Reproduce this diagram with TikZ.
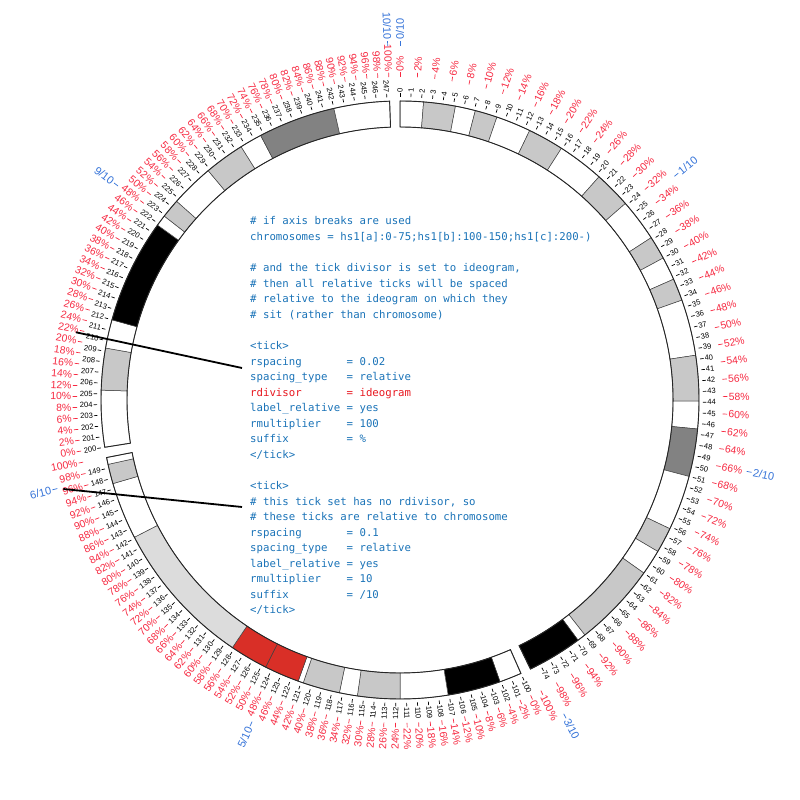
\documentclass[tikz,border=0pt]{standalone}
\usepackage{fontspec}
\setmainfont{Liberation Sans}
\newfontfamily\codefont{DejaVu Sans Mono}
\definecolor{tickred}{RGB}{247,42,66}
\definecolor{tickblue}{RGB}{54,116,217}
\definecolor{codeblue}{RGB}{26,115,184}
\definecolor{codered}{RGB}{232,24,32}
\definecolor{bgpos}{RGB}{200,200,200}
\definecolor{bgvar}{RGB}{220,220,220}
\definecolor{bgposs}{RGB}{130,130,130}
\definecolor{bacen}{RGB}{217,47,39}
\def\S{2.0552}
\def\Ri{273}
\def\Ro{299}
% #1 offset angle, #2 region start, #3 p1, #4 p2, #5 colour
\newcommand\ideoband[5]{%
  \pgfmathsetmacro\aA{90-(#1+(#3-#2)*\S)}%
  \pgfmathsetmacro\aB{90-(#1+(#4-#2)*\S)}%
  \filldraw[fill=#5, draw=black!75, line width=0.5]
    (\aA:\Ri) -- (\aA:\Ro) arc[start angle=\aA, end angle=\aB, radius=\Ro]
    -- (\aB:\Ri) arc[start angle=\aB, end angle=\aA, radius=\Ri] -- cycle;}
\newcommand\ideoframe[3]{%
  \pgfmathsetmacro\aA{90-#1}%
  \pgfmathsetmacro\aB{90-(#1+(#3-#2)*\S)}%
  \draw[black!85, line width=0.9]
    (\aA:\Ri) -- (\aA:\Ro) arc[start angle=\aA, end angle=\aB, radius=\Ro]
    -- (\aB:\Ri) arc[start angle=\aB, end angle=\aA, radius=\Ri] -- cycle;}
% #1 theta, #2 r1, #3 r2, #4 rlabel, #5 colour, #6 font, #7 text, #8 name
\newcommand\radlabel[8]{%
  \pgfmathsetmacro\ph{90-#1}%
  \draw[#5, line width=0.7] (\ph:#2) -- (\ph:#3);
  \ifdim #1pt<179.99pt
    \node[#5, font=#6, anchor=west, rotate=\ph, inner sep=0.3] (#8) at (\ph:#4) {#7};
  \else
    \pgfmathsetmacro\rt{\ph+180}%
    \node[#5, font=#6, anchor=east, rotate=\rt, inner sep=0.3] (#8) at (\ph:#4) {#7};
  \fi}
\begin{document}
\begin{tikzpicture}[x=1pt,y=1pt,
  code/.style={font=\codefont\fontsize{10.7}{12}\selectfont, text=codeblue, anchor=base west, inner sep=0},
  codered/.style={code, text=codered}]
\useasboundingbox (0,0) rectangle (800,800);
\fill[white] (0,0) rectangle (800,800);
\pgfmathsetmacro\offB{75*\S+2}
\pgfmathsetmacro\offC{125*\S+4}
\begin{scope}[shift={(400,400)}]
% ideogram a
\foreach \pa/\pb/\cc in {0/2.2/white,2.2/5.2/bgpos,5.2/7.1/white,7.1/9.2/bgpos,9.2/12.5/white,
  12.5/15.9/bgpos,15.9/20.3/white,20.3/23.8/bgpos,23.8/27.8/white,27.8/30.0/bgpos,30.0/32.2/white,
  32.2/34.3/bgpos,34.3/39.6/white,39.6/43.9/bgpos,43.9/46.5/white,46.5/51.0/bgposs,51.0/56.2/white,
  56.2/58.6/bgpos,58.6/61.0/white,61.0/69.0/bgpos,69.0/69.8/white,69.8/75/black}
  {\ideoband{0}{0}{\pa}{\pb}{\cc}}
\ideoframe{0}{0}{75}
% ideogram b
\foreach \pa/\pb/\cc in {100/102.1/white,102.1/107.1/black,107.1/111.6/white,111.6/115.6/bgpos,
  115.6/117.3/white,117.3/120.8/bgpos,120.8/121.3/white,121.3/124.6/bacen,124.6/128.2/bacen,
  128.2/142.1/bgvar,142.1/147.5/white,147.5/149.35/bgpos,149.35/150/white}
  {\ideoband{\offB}{100}{\pa}{\pb}{\cc}}
\ideoframe{\offB}{100}{150}
% ideogram c
\foreach \pa/\pb/\cc in {200/205.35/white,205.35/209.3/bgpos,209.3/212/white,212/221.85/black,
  221.85/222.9/white,222.9/224.7/bgpos,224.7/228.8/white,228.8/232.6/bgpos,232.6/234.7/white,
  234.7/242/bgposs,242/247.25/white}
  {\ideoband{\offC}{200}{\pa}{\pb}{\cc}}
\ideoframe{\offC}{200}{247.25}
% black ticks
\foreach \p in {0,...,74}{\pgfmathsetmacro\th{\p*\S}
  \radlabel{\th}{303}{306.5}{307}{black}{\fontsize{7.6}{8}\selectfont}{\p}{mb\p}}
\foreach \p in {100,...,149}{\pgfmathsetmacro\th{\offB+(\p-100)*\S}
  \radlabel{\th}{303}{306.5}{307}{black}{\fontsize{7.6}{8}\selectfont}{\p}{mb\p}}
\foreach \p in {200,...,247}{\pgfmathsetmacro\th{\offC+(\p-200)*\S}
  \radlabel{\th}{303}{306.5}{307}{black}{\fontsize{7.6}{8}\selectfont}{\p}{mb\p}}
% red relative ticks
\foreach \k in {0,2,...,100}{\pgfmathsetmacro\th{\k/100*75*\S}
  \radlabel{\th}{323}{327.5}{328.3}{tickred}{\fontsize{10.4}{11}\selectfont}{\k\%}{pa\k}}
\foreach \k in {0,2,...,100}{\pgfmathsetmacro\th{\offB+\k/100*50*\S}
  \radlabel{\th}{323}{327.5}{328.3}{tickred}{\fontsize{10.4}{11}\selectfont}{\k\%}{pb\k}}
\foreach \k in {0,2,...,100}{\pgfmathsetmacro\th{\offC+\k/100*47.25*\S}
  \radlabel{\th}{323}{327.5}{328.3}{tickred}{\fontsize{10.4}{11}\selectfont}{\k\%}{pc\k}}
% blue chromosome-relative ticks
\foreach \k in {0,1,2,3}{\pgfmathsetmacro\th{\k*24.725*\S}
  \radlabel{\th}{354}{359}{360}{tickblue}{\fontsize{11}{12}\selectfont}{\k/10}{ra\k}}
\foreach \k in {5,6}{\pgfmathsetmacro\th{\offB+(\k*24.725-100)*\S}
  \radlabel{\th}{354}{359}{360}{tickblue}{\fontsize{11}{12}\selectfont}{\k/10}{rb\k}}
\foreach \k in {9,10}{\pgfmathsetmacro\th{\offC+(\k*24.725-200)*\S}
  \radlabel{\th}{354}{359}{360}{tickblue}{\fontsize{11}{12}\selectfont}{\k/10}{rc\k}}
\end{scope}
% code text
\node[code] (c0) at (250,575) {\# if axis breaks are used};
\node[code] (c1) at (250,559.44) {chromosomes = hs1[a]:0-75;hs1[b]:100-150;hs1[c]:200-)};
\node[code] (c3) at (250,528.32) {\# and the tick divisor is set to ideogram,};
\node[code] (c4) at (250,512.76) {\# then all relative ticks will be spaced};
\node[code] (c5) at (250,497.2) {\# relative to the ideogram on which they};
\node[code] (c6) at (250,481.64) {\# sit (rather than chromosome)};
\node[code] (c8) at (250,450.52) {<tick>};
\node[code] (c9) at (250,434.96) {rspacing};
\node[code] (v9) at (346.5,434.96) {= 0.02};
\node[code] (c10) at (250,419.4) {spacing\_type};
\node[code] (v10) at (346.5,419.4) {= relative};
\node[codered] (c11) at (250,403.84) {rdivisor};
\node[codered] (v11) at (346.5,403.84) {= ideogram};
\node[code] (c12) at (250,388.28) {label\_relative};
\node[code] (v12) at (346.5,388.28) {= yes};
\node[code] (c13) at (250,372.72) {rmultiplier};
\node[code] (v13) at (346.5,372.72) {= 100};
\node[code] (c14) at (250,357.16) {suffix};
\node[code] (v14) at (346.5,357.16) {= \%};
\node[code] (c15) at (250,341.6) {</tick>};
\node[code] (c17) at (250,310.48) {<tick>};
\node[code] (c18) at (250,294.92) {\# this tick set has no rdivisor, so};
\node[code] (c19) at (250,279.36) {\# these ticks are relative to chromosome};
\node[code] (c20) at (250,263.8) {rspacing};
\node[code] (v20) at (346.5,263.8) {= 0.1};
\node[code] (c21) at (250,248.24) {spacing\_type};
\node[code] (v21) at (346.5,248.24) {= relative};
\node[code] (c22) at (250,232.68) {label\_relative};
\node[code] (v22) at (346.5,232.68) {= yes};
\node[code] (c23) at (250,217.12) {rmultiplier};
\node[code] (v23) at (346.5,217.12) {= 10};
\node[code] (c24) at (250,201.56) {suffix};
\node[code] (v24) at (346.5,201.56) {= /10};
\node[code] (c25) at (250,186) {</tick>};
% pointer lines
\coordinate (l1a) at (76,467.7);
\coordinate (l1b) at (242,432);
\coordinate (l2a) at (63.3,311);
\coordinate (l2b) at (242,293);
\draw[line width=1.8] (l1a) -- (l1b);
\draw[line width=1.8] (l2a) -- (l2b);
\end{tikzpicture}
\end{document}
